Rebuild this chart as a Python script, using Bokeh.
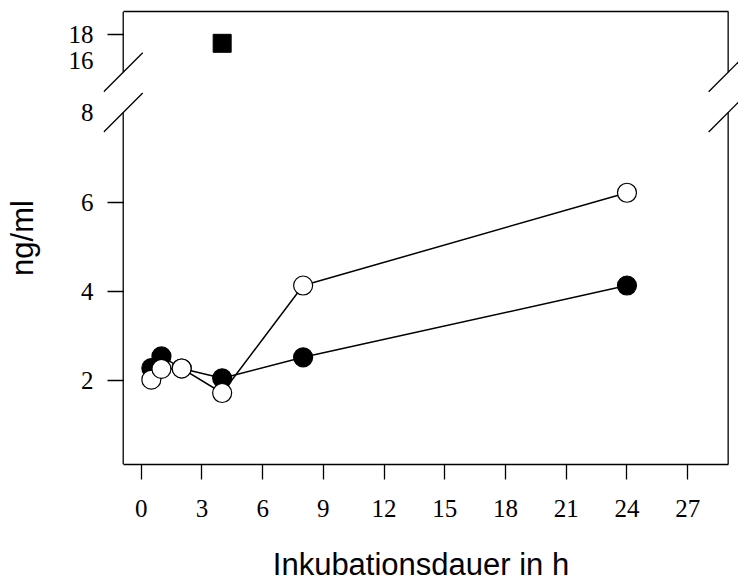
from bokeh.plotting import figure
from bokeh.models import Range1d, LinearAxis, FixedTicker
from bokeh.embed import file_html
from bokeh.resources import INLINE

# ---- data ----
hours = [0.5, 1, 2, 4, 8, 24]
filled_vals = [2.28, 2.54, 2.27, 2.05, 2.52, 4.13]
open_vals = [2.02, 2.26, 2.27, 1.72, 4.13, 6.21]
square_hours = [4]
square_vals = [17.33]

x_ticks = [0, 3, 6, 9, 12, 15, 18, 21, 24, 27]
lower_ticks = [2, 4, 6, 8]
lower_marked = [2, 4, 6]
upper_ticks = [16, 18]
upper_marked = [18]

x_title = "Inkubationsdauer in h"
y_title = "ng/ml"

# ---- geometry (layout constants, not data) ----
FRAME_LEFT = 103
FRAME_W = 635
FRAME_TOP = 11
FRAME_H = 453
FRAME_BOTTOM_PAD = 117
X_START, X_END = -1.863, 29.511      # frame extent (incl. break marks)
BOX_X0, BOX_X1 = -0.889, 29.0        # drawn plot box
Y_START, Y_END = 0.117, 10.274       # lower (main) scale
UP_START, UP_END = -15.83, 19.835    # upper scale (same frame)
BREAK_LO, BREAK_HI = 8.01, 8.913     # gap in box sides (main scale)

LW = 1.3
TICK_FONT = "Liberation Serif"
TICK_SIZE = "25px"
LABEL_FONT = "Liberation Sans"
LABEL_SIZE = "31px"


def up_to_main(v):
    return round(Y_START + (v - UP_START) * (Y_END - Y_START) / (UP_END - UP_START), 6)


p = figure(frame_width=FRAME_W, frame_height=FRAME_H,
           x_range=Range1d(X_START, X_END), y_range=Range1d(Y_START, Y_END),
           output_backend="svg", toolbar_location=None,
           min_border_left=FRAME_LEFT, min_border_right=0,
           min_border_top=FRAME_TOP, min_border_bottom=FRAME_BOTTOM_PAD)
p.extra_y_ranges = {"upper": Range1d(UP_START, UP_END)}
p.outline_line_color = None
p.grid.visible = False
p.background_fill_color = "white"
p.border_fill_color = "white"

# x axis (bottom side of the box)
xa = p.xaxis[0]
xa.ticker = FixedTicker(ticks=x_ticks)
xa.bounds = (BOX_X0, BOX_X1)
xa.axis_line_width = LW
xa.axis_line_color = "black"
xa.major_tick_out = 15
xa.major_tick_in = 0
xa.major_tick_line_width = LW
xa.major_tick_line_color = "black"
xa.minor_tick_out = 0
xa.minor_tick_in = 0
xa.major_label_text_font = TICK_FONT
xa.major_label_text_font_size = TICK_SIZE
xa.major_label_text_color = "black"
xa.major_label_standoff = 20
xa.axis_label = x_title
xa.axis_label_text_font = LABEL_FONT
xa.axis_label_text_font_size = LABEL_SIZE
xa.axis_label_text_font_style = "normal"
xa.axis_label_text_color = "black"
xa.axis_label_standoff = 27

# top side of the box
top_ax = LinearAxis(ticker=FixedTicker(ticks=[]), bounds=(BOX_X0, BOX_X1))
top_ax.axis_line_width = LW
top_ax.axis_line_color = "black"
top_ax.major_tick_out = 0
top_ax.major_tick_in = 0
top_ax.minor_tick_out = 0
top_ax.minor_tick_in = 0
top_ax.major_label_text_font_size = "0px"
top_ax.major_label_standoff = 0
p.add_layout(top_ax, "above")

# y axis: lower scale ticks and upper scale ticks on one axis
up_pos = [up_to_main(v) for v in upper_ticks]
up_marked_pos = [up_to_main(v) for v in upper_marked]
ya = p.yaxis[0]
ya.ticker = FixedTicker(ticks=lower_ticks + up_pos, minor_ticks=lower_marked + up_marked_pos)
ya.major_label_overrides = {pos: str(v) for pos, v in zip(up_pos, upper_ticks)}
ya.axis_line_color = None
ya.major_tick_line_color = None
ya.major_tick_out = 0
ya.major_tick_in = 0
ya.minor_tick_line_color = "black"
ya.minor_tick_line_width = LW
ya.minor_tick_in = int(round((BOX_X0 - X_START) * FRAME_W / (X_END - X_START)))
ya.minor_tick_out = -4
ya.major_label_text_font = TICK_FONT
ya.major_label_text_font_size = TICK_SIZE
ya.major_label_text_color = "black"
ya.major_label_standoff = 10
ya.axis_label = y_title
ya.axis_label_text_font = LABEL_FONT
ya.axis_label_text_font_size = LABEL_SIZE
ya.axis_label_text_font_style = "normal"
ya.axis_label_text_color = "black"
ya.axis_label_standoff = 26

# box sides with the gap, and the break marks
px_x = FRAME_W / (X_END - X_START)
px_y = FRAME_H / (Y_END - Y_START)
dx = 19.5 / px_x
dy = 19.5 / px_y
p.segment(x0=[BOX_X0, BOX_X0, BOX_X1, BOX_X1], y0=[Y_START, BREAK_HI, Y_START, BREAK_HI],
          x1=[BOX_X0, BOX_X0, BOX_X1, BOX_X1], y1=[BREAK_LO, Y_END, BREAK_LO, Y_END],
          line_color="black", line_width=LW)
sx0, sy0, sx1, sy1 = [], [], [], []
for xb in (BOX_X0, BOX_X1):
    for yb in (BREAK_LO, BREAK_HI):
        sx0.append(xb - dx); sy0.append(yb - dy)
        sx1.append(xb + dx); sy1.append(yb + dy)
p.segment(x0=sx0, y0=sy0, x1=sx1, y1=sy1, line_color="black", line_width=LW)

# data
p.line(hours, filled_vals, line_color="black", line_width=1.5)
p.scatter(hours, filled_vals, size=19, fill_color="black", line_color="black", line_width=1.2)
p.line(hours, open_vals, line_color="black", line_width=1.5)
p.scatter(hours, open_vals, size=19, fill_color="white", line_color="black", line_width=1.2)
p.scatter(square_hours, square_vals, y_range_name="upper", marker="square", size=18,
          fill_color="black", line_color="black")

open("out.html", "w").write(file_html(p, INLINE))
